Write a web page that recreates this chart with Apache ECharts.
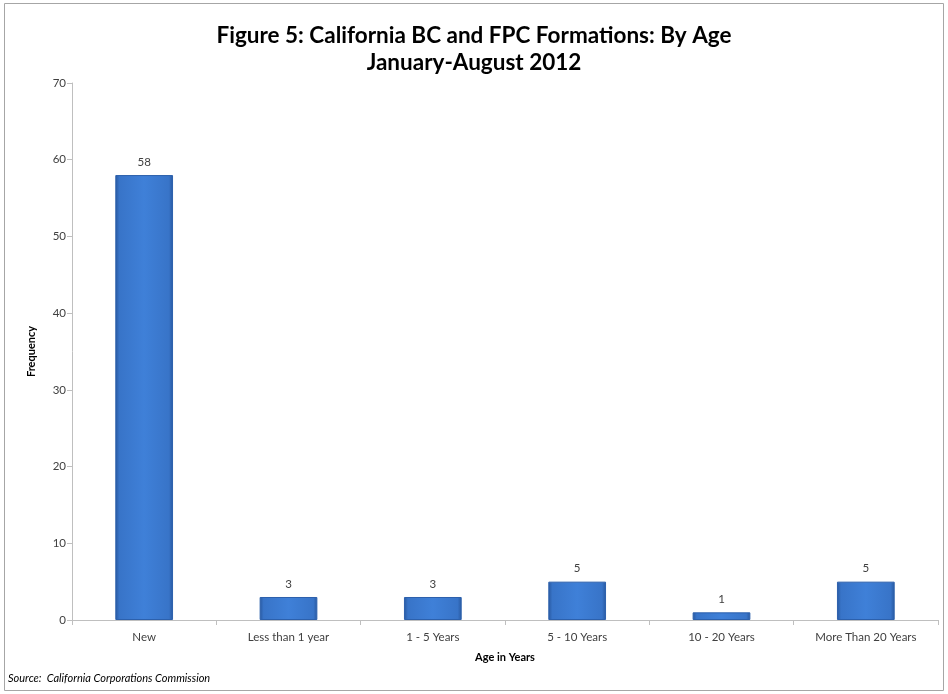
<!DOCTYPE html>
<html><head><meta charset="utf-8">
<script src="https://cdn.jsdelivr.net/npm/echarts@6/dist/echarts.min.js"></script>
<style>html,body{margin:0;padding:0;background:#fff}#c{width:948px;height:694px}</style>
</head><body><div id="c"></div>
<script>
const categories = ['New','Less than 1 year','1 - 5 Years','5 - 10 Years','10 - 20 Years','More Than 20 Years'];
const frequency = [58, 3, 3, 5, 1, 5];
const titleLines = ['Figure 5: California BC and FPC Formations: By Age','January-August 2012'];
const sourceText = 'Source:  California Corporations Commission';

const FONT = 'Lato, "Open Sans", sans-serif';
const chart = echarts.init(document.getElementById('c'));
chart.setOption({
  backgroundColor: '#fff',
  animation: false,
  title: {
    text: titleLines.join('\n'),
    left: 'center', top: 17,
    textStyle: {fontFamily: FONT, fontSize: 22.5, fontWeight: 'bold', color: '#000', lineHeight: 27}
  },
  graphic: [
    {type:'rect', shape:{x:4.5,y:3.5,width:939,height:687}, style:{fill:'none', stroke:'#a6a6a6', lineWidth:1}},
    {type:'text', left: 8, top: 673, style:{text: sourceText, font: 'italic 11px ' + FONT, fill:'#000'}}
  ],
  grid: {left: 72, right: 10, top: 83, bottom: 74},
  xAxis: {
    type: 'category', data: categories,
    name: 'Age in Years', nameLocation: 'middle', nameGap: 32,
    nameTextStyle: {fontFamily: FONT, fontSize: 11, fontWeight: 'bold', color: '#000'},
    axisLine: {lineStyle: {color: '#bfbfbf'}},
    axisTick: {show: true, length: 5, lineStyle: {color: '#bfbfbf'}},
    axisLabel: {fontFamily: FONT, fontSize: 11.5, color: '#404040', margin: 11}
  },
  yAxis: {
    type: 'value', min: 0, max: 70, interval: 10,
    name: 'Frequency', nameLocation: 'middle', nameGap: 35, nameRotate: 90,
    nameTextStyle: {fontFamily: FONT, fontSize: 11, fontWeight: 'bold', color: '#000'},
    axisLine: {show: true, lineStyle: {color: '#bfbfbf'}},
    axisTick: {show: true, length: 5, lineStyle: {color: '#bfbfbf'}},
    splitLine: {show: false},
    axisLabel: {fontFamily: FONT, fontSize: 11.5, color: '#404040', margin: 6}
  },
  series: [{
    type: 'bar', data: frequency, barWidth: '40%',
    itemStyle: {
      color: new echarts.graphic.LinearGradient(0,0,1,0,[
        {offset:0, color:'#28589f'},
        {offset:0.07, color:'#3874c8'},
        {offset:0.5, color:'#3f80d8'},
        {offset:0.93, color:'#3874c8'},
        {offset:1, color:'#28589f'}
      ]),
      borderColor: '#2c60ac', borderWidth: 1
    },
    label: {show: true, position: 'top', distance: 7, fontFamily: FONT, fontSize: 11.5, color: '#404040'}
  }]
});
</script></body></html>
